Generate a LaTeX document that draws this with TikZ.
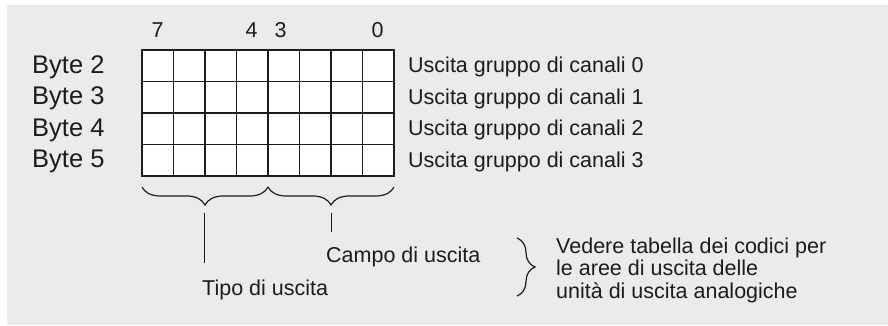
\documentclass[tikz,border=0pt]{standalone}
\usepackage{fontspec}
\setmainfont{Liberation Sans}
\usetikzlibrary{calc, positioning, decorations.pathreplacing}

\definecolor{panelgray}{RGB}{235,235,235}
\definecolor{inkgray}{RGB}{28,28,28}

\begin{document}
\begin{tikzpicture}[x=1pt, y=-1pt,
    txt/.style={inner sep=0pt, text=inkgray, font=\fontsize{21.5}{22.5}\selectfont},
    bytetxt/.style={txt, font=\fontsize{25.5}{27}\selectfont},
    cellline/.style={line width=1.4pt, draw=inkgray},
    bracket/.style={decorate, decoration={brace, amplitude=18pt}, line width=1.2pt, draw=inkgray},
    leader/.style={line width=1.5pt, draw=inkgray}]

    % ==========================================
    % 1. BACKGROUND PANEL
    % ==========================================
    \useasboundingbox (0,0) rectangle (888,325);
    \fill[white] (0,0) rectangle (888,325);
    \fill[panelgray] (7,5) rectangle (888,325);

    % ==========================================
    % 2. BIT GRID (8 bits x 4 bytes)
    % ==========================================
    \fill[white] (142,50) rectangle (394,176);
    \foreach \i in {1,...,7}
        \draw[cellline] ({142+31.5*\i},50) -- ({142+31.5*\i},176);
    \foreach \j in {1,2,3}
        \draw[cellline] (142,{50+31.5*\j}) -- (394,{50+31.5*\j});
    \draw[line width=2pt, draw=inkgray] (142,50) rectangle (394,176);

    % bit numbers
    \node[txt, anchor=base] (bit7) at (157.5,37.7) {7};
    \node[txt, anchor=base] (bit4) at (251.5,37.7) {4};
    \node[txt, anchor=base] (bit3) at (280.5,37.7) {3};
    \node[txt, anchor=base] (bit0) at (377.5,37.7) {0};

    % byte labels and channel group labels
    \foreach \b [count=\r from 0] in {2,...,5} {
        \node[bytetxt, anchor=base west] (byte\b) at (32,{65.75+31.5*\r+7.6}) {Byte \b};
        \node[txt, anchor=base west] (grp\r) at (408,{65.75+31.5*\r+7}) {Uscita gruppo di canali \r};
    }

    % ==========================================
    % 3. BRACES AND LEADERS
    % ==========================================
    \coordinate (typeL) at (142,187);
    \coordinate (typeR) at (268,187);
    \coordinate (rangeR) at (394,187);
    \draw[bracket] (typeR) -- (typeL);
    \draw[bracket] (rangeR) -- (typeR);

    \node[txt, anchor=base west] (tipo) at (202,295) {Tipo di uscita};
    \node[txt, anchor=base west] (campo) at (326,262.3) {Campo di uscita};

    \coordinate (typeTip) at (204.5,213);
    \coordinate (rangeTip) at (331.5,213);
    \draw[leader, shorten >=16pt] (typeTip) -- (typeTip |- tipo.north);
    \draw[leader, shorten >=15pt] (rangeTip) -- (rangeTip |- campo.north);

    % ==========================================
    % 4. NOTE
    % ==========================================
    \coordinate (noteTop) at (517,238);
    \coordinate (noteBot) at (517,296);
    \draw[bracket] (noteTop) -- (noteBot);
    \node[txt, anchor=north west, align=left] (note) at (556,237.6)
        {Vedere tabella dei codici per\\le aree di uscita delle\\unità di uscita analogiche};

\end{tikzpicture}
\end{document}
